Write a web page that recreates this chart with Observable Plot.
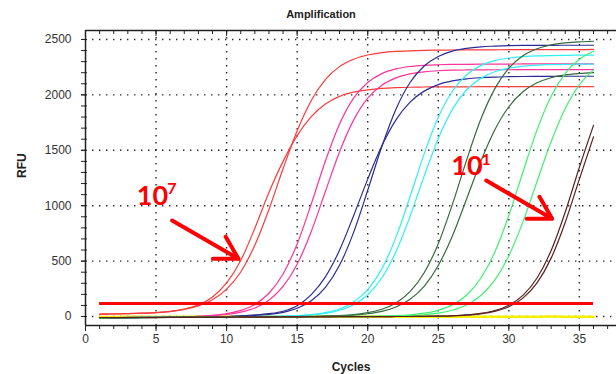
<!DOCTYPE html>
<html><head><meta charset="utf-8">
<script src="https://cdn.jsdelivr.net/npm/d3@7"></script>
<script src="https://cdn.jsdelivr.net/npm/@observablehq/plot@0.6"></script>
<style>body{margin:0;background:#fff}</style>
</head><body><div id="chart"></div>
<script>
const cycles = [1,2,3,4,5,6,7,8,9,10,11,12,13,14,15,16,17,18,19,20,21,22,23,24,25,26,27,28,29,30,31,32,33,34,35,36];

// RFU readings per cycle (duplicates of a 10-fold dilution series, 10^7 ... 10^1)
const red7a   = [21,23,26,30,36,46,64,96,151,247,402,644,966,1333,1676,1950,2138,2255,2322,2360,2381,2392,2398,2402,2404,2405,2406,2407,2407,2408,2408,2408,2409,2409,2409,2410];
const red7b   = [21,24,26,30,35,45,67,105,177,303,505,797,1120,1400,1633,1803,1917,1987,2025,2045,2058,2065,2069,2071,2072,2073,2073,2074,2074,2074,2075,2075,2075,2075,2075,2075];
const pink6a  = [-12,-11,-10,-9,-7,-5,-2,2,11,26,55,109,210,384,655,1016,1404,1736,1970,2112,2192,2234,2256,2267,2272,2275,2276,2277,2278,2278,2279,2279,2279,2280,2280,2280];
const pink6b  = [-13,-12,-11,-10,-9,-6,-3,1,7,18,39,77,147,271,472,768,1128,1485,1772,1970,2087,2153,2189,2208,2218,2223,2225,2226,2227,2227,2228,2228,2228,2228,2228,2228];
const blue5a  = [-11,-10,-9,-8,-7,-6,-5,-4,-2,0,4,9,19,38,75,143,263,462,759,1139,1534,1871,2112,2261,2347,2395,2420,2434,2440,2444,2446,2447,2447,2448,2448,2448];
const blue5b  = [-14,-13,-12,-11,-10,-9,-7,-6,-4,0,6,14,26,48,98,198,358,598,910,1240,1540,1775,1935,2034,2093,2126,2145,2155,2161,2164,2166,2167,2167,2168,2168,2168];
const cyan4a  = [-10,-9,-8,-8,-7,-6,-5,-4,-3,-2,-1,0,2,4,9,18,35,68,130,242,430,714,1081,1468,1799,2033,2180,2264,2309,2333,2346,2352,2355,2357,2358,2358];
const cyan4b  = [-12,-11,-10,-9,-8,-7,-6,-5,-4,-3,-2,-1,1,3,7,15,29,57,107,197,348,584,904,1267,1606,1869,2044,2149,2209,2242,2259,2269,2273,2275,2277,2278];
const dkgrn3a = [-11,-10,-9,-9,-8,-7,-6,-5,-4,-3,-2,-2,-1,-1,0,2,4,9,18,35,66,123,224,395,657,1012,1409,1775,2054,2241,2353,2416,2451,2469,2479,2484];
const dkgrn3b = [-13,-12,-11,-10,-9,-8,-7,-6,-5,-4,-3,-2,-2,-1,-1,0,3,7,13,25,46,86,155,272,460,727,1058,1395,1683,1893,2028,2109,2155,2180,2193,2201];
const green2a = [-10,-9,-9,-8,-7,-7,-6,-5,-5,-4,-3,-3,-2,-2,-1,-1,0,0,1,2,4,8,16,30,56,105,192,343,579,912,1304,1684,1987,2195,2321,2394];
const green2b = [-12,-11,-11,-10,-9,-9,-8,-7,-7,-6,-5,-5,-4,-3,-3,-2,-2,-1,-1,0,2,4,8,16,30,57,104,187,328,548,854,1219,1580,1878,2091,2223];
const brown1a = [-9,-9,-8,-8,-7,-7,-6,-6,-5,-5,-4,-4,-3,-3,-3,-2,-2,-2,-1,-1,-1,0,0,2,4,7,14,28,54,102,191,348,596,943,1347,1725];
const brown1b = [-11,-10,-10,-9,-9,-8,-8,-7,-7,-6,-6,-5,-5,-4,-4,-3,-3,-2,-2,-1,-1,0,0,2,3,6,12,24,46,88,166,304,527,851,1240,1622];
const ntc     = [-4,-4,-3,-3,-4,-3,-3,-2,-3,-3,-2,-2,-3,-2,-2,-2,-3,-2,-2,-2,-1,-2,-2,-1,-1,-2,-1,-1,-1,-1,-1,-1,0,-1,-1,-1];

const thresholdRFU = 117;

const xTicks = [0,5,10,15,20,25,30,35];
const yTicks = [0,500,1000,1500,2000,2500];
const xDomain = [0, 37.63];
const yDomain = [-81, 2581];

const seriesNames = ["red7a","red7b","pink6a","pink6b","blue5a","blue5b","cyan4a","cyan4b","dkgrn3a","dkgrn3b","green2a","green2b","brown1a","brown1b","ntc"];
const seriesValues = [red7a,red7b,pink6a,pink6b,blue5a,blue5b,cyan4a,cyan4b,dkgrn3a,dkgrn3b,green2a,green2b,brown1a,brown1b,ntc];
const curveColors = {
  red7a:"#ff3a3a", red7b:"#ff3a3a",
  pink6a:"#ff3399", pink6b:"#ff3399",
  blue5a:"#2b2b95", blue5b:"#2b2b95",
  cyan4a:"#2ef0f5", cyan4b:"#2ef0f5",
  dkgrn3a:"#356b3c", dkgrn3b:"#356b3c",
  green2a:"#3ff06e", green2b:"#3ff06e",
  brown1a:"#5a2020", brown1b:"#5a2020",
  ntc:"#f5f000"
};

// annotations (data coordinates)
const annBase = [{x:3.63, y:1002, t:"10"}, {x:25.92, y:1273, t:"10"}];
const annSup  = [{x:5.79, y:1110, t:"7"}, {x:28.07, y:1363, t:"1"}];
const annArrows = [{x1:6.14, y1:866, x2:10.84, y2:521}, {x1:28.4, y1:1227, x2:33.07, y2:882}];

const rows = seriesNames.flatMap((name, k) => cycles.map((c, i) => ({name, cycle: c, rfu: seriesValues[k][i]})));
const curves = rows.filter(d => d.name !== "ntc");
const ntcRows = rows.filter(d => d.name === "ntc");

const minorX = d3.range(0, 38, 1);
const minorY = d3.range(0, 2600, 100);
const axisColor = "#222";
const fmt = d3.format("d");

const chart = Plot.plot({
  width: 616, height: 374,
  marginLeft: 85, marginRight: 0, marginTop: 30, marginBottom: 49,
  style: {fontFamily: "'Liberation Sans', Arial, sans-serif", fontSize: "12px", color: "#333", background: "#fff"},
  x: {domain: xDomain, axis: null},
  y: {domain: yDomain, axis: null},
  color: {type: "identity"},
  marks: [
    Plot.gridX({ticks: xTicks.slice(1), stroke: "#000", strokeOpacity: 0.85, strokeWidth: 1.4, strokeDasharray: "1.4,5.6"}),
    Plot.gridY({ticks: yTicks, stroke: "#000", strokeOpacity: 0.85, strokeWidth: 1.4, strokeDasharray: "1.4,5.6"}),
    Plot.line(ntcRows, {x: "cycle", y: "rfu", z: "name", stroke: d => curveColors[d.name], strokeWidth: 2.5}),
    Plot.line(curves, {x: "cycle", y: "rfu", z: "name", stroke: d => curveColors[d.name], strokeWidth: 1.2, curve: "monotone-x"}),
    Plot.ruleY([thresholdRFU], {x1: cycles[0], x2: cycles[cycles.length - 1], stroke: "#ff0000", strokeWidth: 3}),
    // frame lines
    Plot.ruleX([xDomain[0]], {stroke: axisColor, strokeWidth: 1.5}),
    Plot.ruleY([yDomain[0], yDomain[1]], {stroke: axisColor, strokeWidth: 1.5}),
    // bottom axis
    Plot.axisX({ticks: minorX, tickSize: 4, tickFormat: () => "", stroke: axisColor}),
    Plot.axisX({ticks: xTicks, tickSize: 6, tickPadding: 3, tickFormat: fmt, fontSize: 12, fill: "#333", stroke: axisColor, label: null}),
    // top frame ticks pointing inward
    Plot.tickX(minorX.slice(1), {x: d => d, insetBottom: 291, stroke: axisColor}),
    Plot.tickX(xTicks.slice(1), {x: d => d, insetBottom: 289, stroke: axisColor}),
    // left axis
    Plot.axisY({ticks: minorY, tickSize: 4, tickFormat: () => "", stroke: axisColor}),
    Plot.axisY({ticks: yTicks, tickSize: 4, tickPadding: 10, tickFormat: fmt, fontSize: 12, fill: "#333", stroke: axisColor, label: null}),
    Plot.tickY(minorY, {y: d => d, insetRight: 529, stroke: axisColor}),
    // titles
    Plot.text(["Amplification"], {text: d => d, frameAnchor: "top", lineAnchor: "bottom", dy: -13, dx: -30, fontWeight: "bold", fontSize: 11, fill: "#222"}),
    Plot.text(["RFU"], {text: d => d, frameAnchor: "left", rotate: -90, dx: -63, fontWeight: "bold", fontSize: 12, fill: "#222"}),
    Plot.text(["Cycles"], {text: d => d, frameAnchor: "bottom", lineAnchor: "bottom", dy: 45, fontWeight: "bold", fontSize: 12, fill: "#222"}),
    // annotations
    Plot.arrow(annArrows, {x1: "x1", y1: "y1", x2: "x2", y2: "y2", stroke: "#ff0000", strokeWidth: 4, headLength: 18, headAngle: 60}),
    Plot.text(annBase, {x: "x", y: "y", text: "t", textAnchor: "start", lineAnchor: "bottom", fontSize: 27, fontWeight: "bold", fontFamily: "Lato, 'Open Sans', sans-serif", fill: "#ff0000"}),
    Plot.text(annSup, {x: "x", y: "y", text: "t", textAnchor: "start", lineAnchor: "bottom", fontSize: 16, fontWeight: "bold", fontFamily: "Lato, 'Open Sans', sans-serif", fill: "#ff0000"})
  ]
});
document.getElementById("chart").appendChild(chart);
</script>
</body></html>
